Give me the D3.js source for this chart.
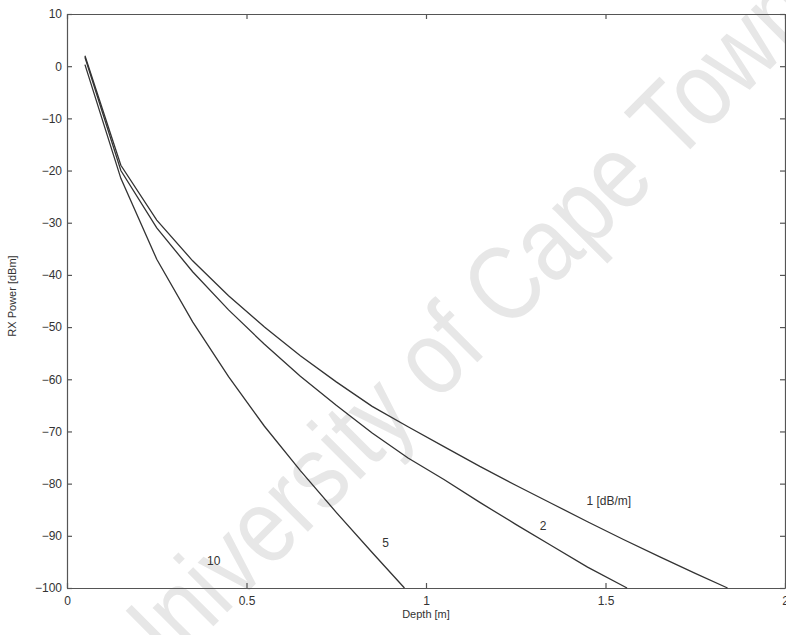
<!DOCTYPE html>
<html>
<head>
<meta charset="utf-8">
<script src="https://cdn.jsdelivr.net/npm/d3@7"></script>
<style>
    html, body { margin: 0; padding: 0; background: #fff; }
    svg { display: block; font-family: "Liberation Sans", Arial, sans-serif; }
    .axis path, .axis line { stroke: #555; stroke-width: 1.2; }
    .axis text { fill: #333; font-size: 12px; }
</style>
</head>
<body>
<svg id="chart"></svg>
<script>
// Depth [m] and RX power [dBm], one pair of arrays per attenuation curve
const depth1 = [0.05, 0.15, 0.25, 0.35, 0.45, 0.55, 0.65, 0.75, 0.85, 0.95, 1.05, 1.15, 1.25, 1.35, 1.45, 1.55, 1.65, 1.75, 1.84];
const power1 = [2, -19, -29.5, -37.3, -44, -50, -55.5, -60.5, -65.2, -69.1, -72.9, -76.7, -80.3, -83.8, -87.3, -90.7, -94, -97.2, -100];

const depth2 = [0.05, 0.15, 0.25, 0.35, 0.45, 0.55, 0.65, 0.75, 0.85, 0.95, 1.05, 1.15, 1.25, 1.35, 1.45, 1.56];
const power2 = [1.7, -20, -31, -39.4, -46.7, -53.3, -59.4, -65, -70.3, -75.1, -79.2, -83.6, -87.8, -91.9, -96, -100];

const depth5 = [0.05, 0.15, 0.25, 0.35, 0.45, 0.55, 0.65, 0.75, 0.85, 0.94];
const power5 = [0.3, -21.5, -37, -49, -59.5, -69, -77.5, -85.5, -93.2, -100];

// curve labels and where they sit (data units)
const curveLabels = ["1 [dB/m]", "2", "5", "10"];
const labelDepth = [1.447, 1.317, 0.878, 0.39];
const labelPower = [-84.1, -88.9, -92.1, -95.6];

const xTicks = [0, 0.5, 1, 1.5, 2];
const yTicks = [-100, -90, -80, -70, -60, -50, -40, -30, -20, -10, 0, 10];

const svg = d3.select("#chart");
const width = 786;
const height = 635;
const margin = { top: 14, right: 1, bottom: 47, left: 67 };

svg.attr("width", width).attr("height", height);

// watermark
svg.append("text")
    .attr("transform", "translate(462,338) rotate(-45)")
    .attr("text-anchor", "middle")
    .attr("dominant-baseline", "middle")
    .attr("fill", "#e7e7e7")
    .style("font-size", "106px")
    .attr("textLength", 960)
    .attr("lengthAdjust", "spacingAndGlyphs")
    .text("University of Cape Town");

const xScale = d3.scaleLinear()
    .domain([0, 2])
    .range([margin.left, width - margin.right]);

const yScale = d3.scaleLinear()
    .domain([-100, 10])
    .range([height - margin.bottom, margin.top]);

const fmt = d => d3.format("")(d);

// axes, ticks pointing inward like the original
svg.append("g")
    .attr("class", "axis")
    .attr("transform", `translate(0,${height - margin.bottom})`)
    .call(d3.axisBottom(xScale).tickValues(xTicks).tickFormat(fmt).tickSizeInner(-5).tickSizeOuter(0).tickPadding(8));

svg.append("g")
    .attr("class", "axis")
    .attr("transform", `translate(${margin.left},0)`)
    .call(d3.axisLeft(yScale).tickValues(yTicks).tickFormat(fmt).tickSizeInner(-5).tickSizeOuter(0).tickPadding(5));

svg.append("g")
    .attr("class", "axis")
    .attr("transform", `translate(0,${margin.top})`)
    .call(d3.axisTop(xScale).tickValues(xTicks).tickFormat("").tickSizeInner(-5).tickSizeOuter(0));

svg.append("g")
    .attr("class", "axis")
    .attr("transform", `translate(${width - margin.right},0)`)
    .call(d3.axisRight(yScale).tickValues(yTicks).tickFormat("").tickSizeInner(-5).tickSizeOuter(0));

// curves
const line = d3.line()
    .x(d => xScale(d[0]))
    .y(d => yScale(d[1]));

const series = [
    d3.zip(depth1, power1),
    d3.zip(depth2, power2),
    d3.zip(depth5, power5)
];

svg.selectAll(".curve")
    .data(series)
    .enter()
    .append("path")
    .attr("class", "curve")
    .attr("fill", "none")
    .attr("stroke", "#333")
    .attr("stroke-width", 1.3)
    .attr("d", line);

// curve labels
svg.selectAll(".clabel")
    .data(curveLabels)
    .enter()
    .append("text")
    .attr("class", "clabel")
    .attr("x", (d, i) => xScale(labelDepth[i]))
    .attr("y", (d, i) => yScale(labelPower[i]))
    .attr("fill", "#333")
    .style("font-size", "12px")
    .text(d => d);

// axis titles
svg.append("text")
    .attr("x", xScale(1))
    .attr("y", 618)
    .attr("text-anchor", "middle")
    .attr("fill", "#333")
    .style("font-size", "11px")
    .text("Depth [m]");

svg.append("text")
    .attr("transform", "rotate(-90)")
    .attr("x", -296)
    .attr("y", 16)
    .attr("text-anchor", "middle")
    .attr("fill", "#333")
    .style("font-size", "11px")
    .text("RX Power [dBm]");
</script>
</body>
</html>
